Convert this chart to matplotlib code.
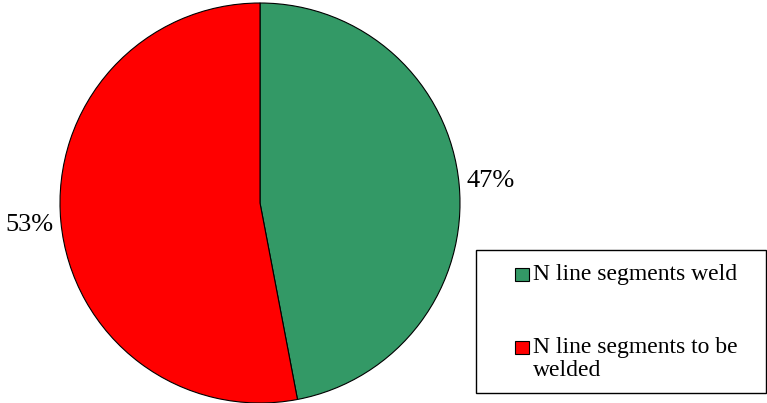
import matplotlib.pyplot as plt
from matplotlib.patches import Rectangle

# data
labels = ['N line segments weld', 'N line segments to be\nwelded']
shares = [47, 53]
colors = ['#339966', '#ff0000']

plt.rcParams['font.family'] = ['Liberation Serif', 'DejaVu Serif']

fig = plt.figure(figsize=(7.67, 4.03), dpi=100)
ax = fig.add_axes([60 / 767, 0.0, 400 / 767, 400 / 403])

wedges, texts, autotexts = ax.pie(
    shares, colors=colors, startangle=90, counterclock=False,
    autopct=lambda p: '%d%%' % round(p), pctdistance=1.16, radius=1.0,
    wedgeprops=dict(edgecolor='black', linewidth=0.8))
for t in autotexts:
    t.set_fontsize(19)
ax.set_xlim(-1, 1)
ax.set_ylim(-1, 1)
ax.set_aspect('equal')

# legend box, drawn by hand so the marker sits on the first text line
W, H = 767, 403
fig.patches.append(Rectangle((476 / W, 1 - 393 / H), 290 / W, 143 / H,
                             transform=fig.transFigure, facecolor='white',
                             edgecolor='black', linewidth=1.0))
baselines = [281, 354]
for lab, col, yb in zip(labels, colors, baselines):
    fig.patches.append(Rectangle((515 / W, 1 - yb / H), 14 / W, 13 / H,
                                 transform=fig.transFigure, facecolor=col,
                                 edgecolor='black', linewidth=0.8))
    fig.text(533 / W, 1 - (yb - 17) / H, lab, fontsize=17, va='top', ha='left',
             linespacing=1.1)

fig.savefig('out.png', dpi=100)
